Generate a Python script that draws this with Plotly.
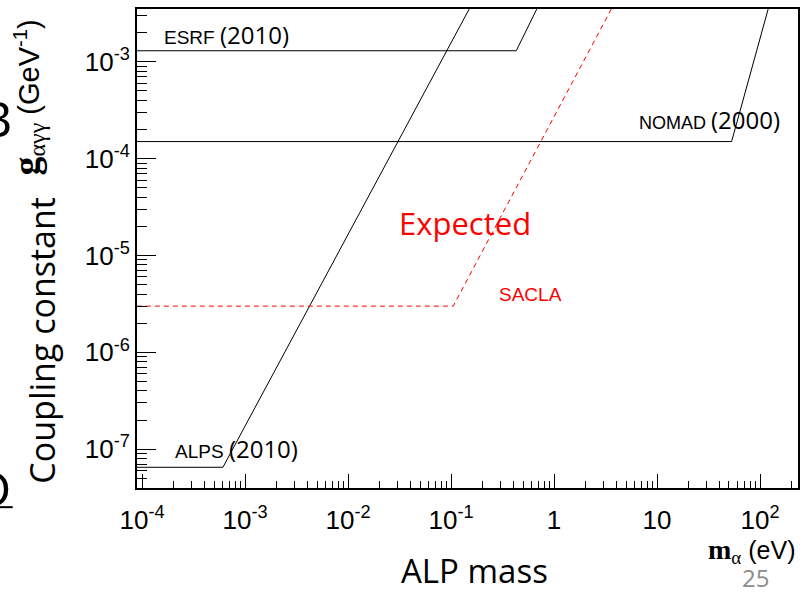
import plotly.graph_objects as go

# ---- data ----
mass_ticks = [1e-4, 1e-3, 1e-2, 1e-1, 1, 10, 100]
mass_labels = ["10<sup>-4</sup>", "10<sup>-3</sup>", "10<sup>-2</sup>", "10<sup>-1</sup>", "1", "10", "10<sup>2</sup>"]
g_ticks = [1e-7, 1e-6, 1e-5, 1e-4, 1e-3]
g_labels = ["10<sup>-7</sup>", "10<sup>-6</sup>", "10<sup>-5</sup>", "10<sup>-4</sup>", "10<sup>-3</sup>"]

esrf_m = [8.9e-5, 0.43, 0.68]
esrf_g = [1.3e-3, 1.3e-3, 3.5e-3]
alps_m = [8.9e-5, 6.1e-4, 0.15]
alps_g = [6.5e-8, 6.5e-8, 3.5e-3]
nomad_m = [8.9e-5, 53, 120]
nomad_g = [1.5e-4, 1.5e-4, 3.5e-3]
sacla_m = [8.9e-5, 0.105, 3.6]
sacla_g = [3.0e-6, 3.0e-6, 3.5e-3]

fig = go.Figure()
for m, g in [(esrf_m, esrf_g), (alps_m, alps_g), (nomad_m, nomad_g)]:
    fig.add_trace(go.Scatter(x=m, y=g, mode="lines",
                             line=dict(color="black", width=1), showlegend=False))
fig.add_trace(go.Scatter(x=sacla_m, y=sacla_g, mode="lines",
                         line=dict(color="#ff0000", width=1, dash="5px,4px"), showlegend=False))

SANS = "Liberation Sans, Arial, sans-serif"
CAL = "Open Sans, sans-serif"

ann = []
def A(text, x, y, xref="x", yref="y", size=19, color="black", family=SANS,
      xanchor="center", yanchor="middle", **kw):
    ann.append(dict(text=text, x=x, y=y, xref=xref, yref=yref, showarrow=False,
                    xanchor=xanchor, yanchor=yanchor,
                    font=dict(size=size, color=color, family=family), **kw))

big = "<span style='font-family:Open Sans;font-size:24px'>"
A("ESRF " + big + "(2010)</span>", -3.81, -2.72, xanchor="left", size=19)
A("NOMAD " + big + "(2000)</span>", 0.806, -3.596, xanchor="left", size=18)
A("ALPS " + big + "(2010)</span>", -3.699, -6.99, xanchor="left", size=19)
A("Expected", -0.864, -4.666, color="#ff0000", family=CAL, size=31)
A("SACLA", -0.233, -5.406, color="#ff0000", size=19)

A("Coupling constant", -0.1437, 0.3077, xref="paper", yref="paper", size=34, family=CAL,
  textangle=-90)
A("<span style='font-family:Liberation Serif;font-weight:bold;font-size:38px'>g</span>"
  "<sub><span style='font-family:Liberation Serif;font-size:24px'>αγγ</span></sub>"
  " (GeV<sup>-1</sup>)",
  -0.165, 0.815, xref="paper", yref="paper", size=29, textangle=-90)
A("ALP mass", 0.51, -0.172, xref="paper", yref="paper", size=33, family=CAL)
A("25", 0.936, -0.187, xref="paper", yref="paper", size=24, family=CAL, color="#8c8c8c")
A("<span style='font-family:Liberation Serif;font-weight:bold;font-size:28px'>m</span>"
  "<sub><span style='font-family:Liberation Serif;font-size:19px'>α</span></sub> (eV)",
  0.998, -0.131, xref="paper", yref="paper", size=25, xanchor="right")
A("B", -0.186, 0.773, xref="paper", yref="paper", size=50, family=CAL, xanchor="right")
A("D", -0.188, 0.0, xref="paper", yref="paper", size=50, family=CAL, xanchor="right")

fig.update_layout(
    width=810, height=593,
    margin=dict(l=137, r=12, t=7, b=105),
    paper_bgcolor="white", plot_bgcolor="white",
    annotations=ann,
    shapes=[dict(type="line", xref="paper", yref="paper", x0=-0.21, x1=-0.188,
                 y0=-0.04, y1=-0.04, line=dict(color="black", width=2))],
    xaxis=dict(type="log", range=[-4.049, 2.369], tickvals=mass_ticks, ticktext=mass_labels,
               ticks="inside", ticklen=14, tickwidth=1, tickcolor="black",
               showline=True, linecolor="black", linewidth=2, mirror=True,
               showgrid=False, zeroline=False, ticklabelstandoff=8,
               tickfont=dict(family=SANS, size=26, color="black"),
               minor=dict(ticks="inside", ticklen=7, tickcolor="black", dtick="D1", showgrid=False)),
    yaxis=dict(type="log", range=[-7.401, -2.455], tickvals=g_ticks, ticktext=g_labels,
               ticks="inside", ticklen=19, tickwidth=1, tickcolor="black",
               showline=True, linecolor="black", linewidth=2, mirror=True,
               showgrid=False, zeroline=False,
               tickfont=dict(family=SANS, size=26, color="black"),
               minor=dict(ticks="inside", ticklen=10, tickcolor="black", dtick="D1", showgrid=False)),
)
fig.write_html("out.html", config={"displayModeBar": False},
               post_script="document.body.style.margin='0px';")
